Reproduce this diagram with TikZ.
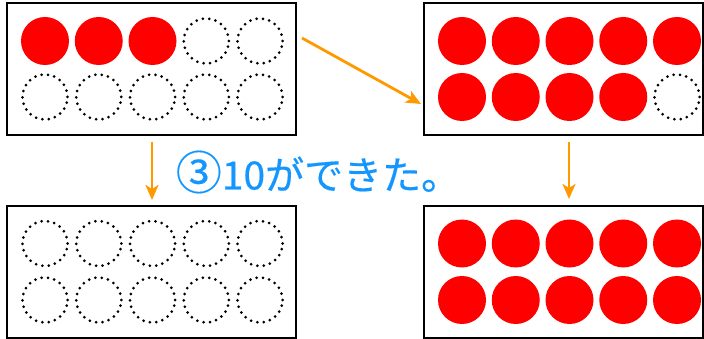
\documentclass[tikz,border=0pt]{standalone}
\usepackage{fontspec}
\newfontfamily\jp[FakeBold=0.4]{Noto Sans CJK JP}
\usetikzlibrary{arrows.meta}
\definecolor{cred}{RGB}{255,0,0}
\definecolor{corange}{RGB}{255,153,0}
\definecolor{cblue}{RGB}{20,150,255}
\begin{document}
\begin{tikzpicture}[x=1pt,y=-1pt,
  frame/.style={draw=black, line width=2.6pt, minimum height=132pt, inner sep=0pt, outer sep=0pt},
  full/.style={circle, fill=cred, minimum size=48pt, inner sep=0pt},
  empty/.style={circle, draw=black, line width=3pt, dash pattern=on 0pt off 6.45pt, line cap=round, minimum size=45pt, inner sep=0pt},
  arr/.style={draw=corange, line width=2.8pt, -{Stealth[length=15pt,width=13pt,inset=4pt]}},
  label/.style={font=\jp\fontsize{39}{44}\selectfont, text=cblue, inner sep=0pt}]
\useasboundingbox (0,0) rectangle (704,339);
% frames
\node[frame, minimum width=289pt] (tl) at (151.5,69) {};
\node[frame, minimum width=279pt] (tr) at (563.5,69) {};
\node[frame, minimum width=289pt] (bl) at (151.5,272) {};
\node[frame, minimum width=279pt] (br) at (563.5,272) {};
% top-left: 3 filled
\foreach \i in {0,...,4}{
  \pgfmathsetmacro{\xx}{45+53.75*\i}
  \ifnum\i<3
    \node[full] (tla\i) at (\xx,41) {};
  \else
    \node[empty] (tla\i) at (\xx,41) {};
  \fi
  \node[empty] (tlb\i) at (\xx,97) {};
}
% top-right: 9 filled
\foreach \i in {0,...,4}{
  \pgfmathsetmacro{\xx}{462+53.75*\i}
  \node[full] (tra\i) at (\xx,41) {};
  \ifnum\i<4
    \node[full] (trb\i) at (\xx,97) {};
  \else
    \node[empty] (trb\i) at (\xx,97) {};
  \fi
}
% bottom-left: none filled
\foreach \i in {0,...,4}{
  \pgfmathsetmacro{\xx}{45+53.75*\i}
  \node[empty] (bla\i) at (\xx,243.5) {};
  \node[empty] (blb\i) at (\xx,300) {};
}
% bottom-right: all filled
\foreach \i in {0,...,4}{
  \pgfmathsetmacro{\xx}{462+53.75*\i}
  \node[full] (bra\i) at (\xx,243.5) {};
  \node[full] (brb\i) at (\xx,300) {};
}
% arrows
\coordinate (d1) at (302,38);
\coordinate (d2) at (421,104);
\coordinate (v1) at (152,142);
\coordinate (v2) at (152,200);
\coordinate (w1) at (569,142);
\coordinate (w2) at (569,199);
\draw[arr] (d1) -- (d2);
\draw[arr] (v1) -- (v2);
\draw[arr] (w1) -- (w2);
% text
\node[label] (txt) at (318,172) {{\fontsize{46}{46}\selectfont ③}10ができた。};
\end{tikzpicture}
\end{document}
